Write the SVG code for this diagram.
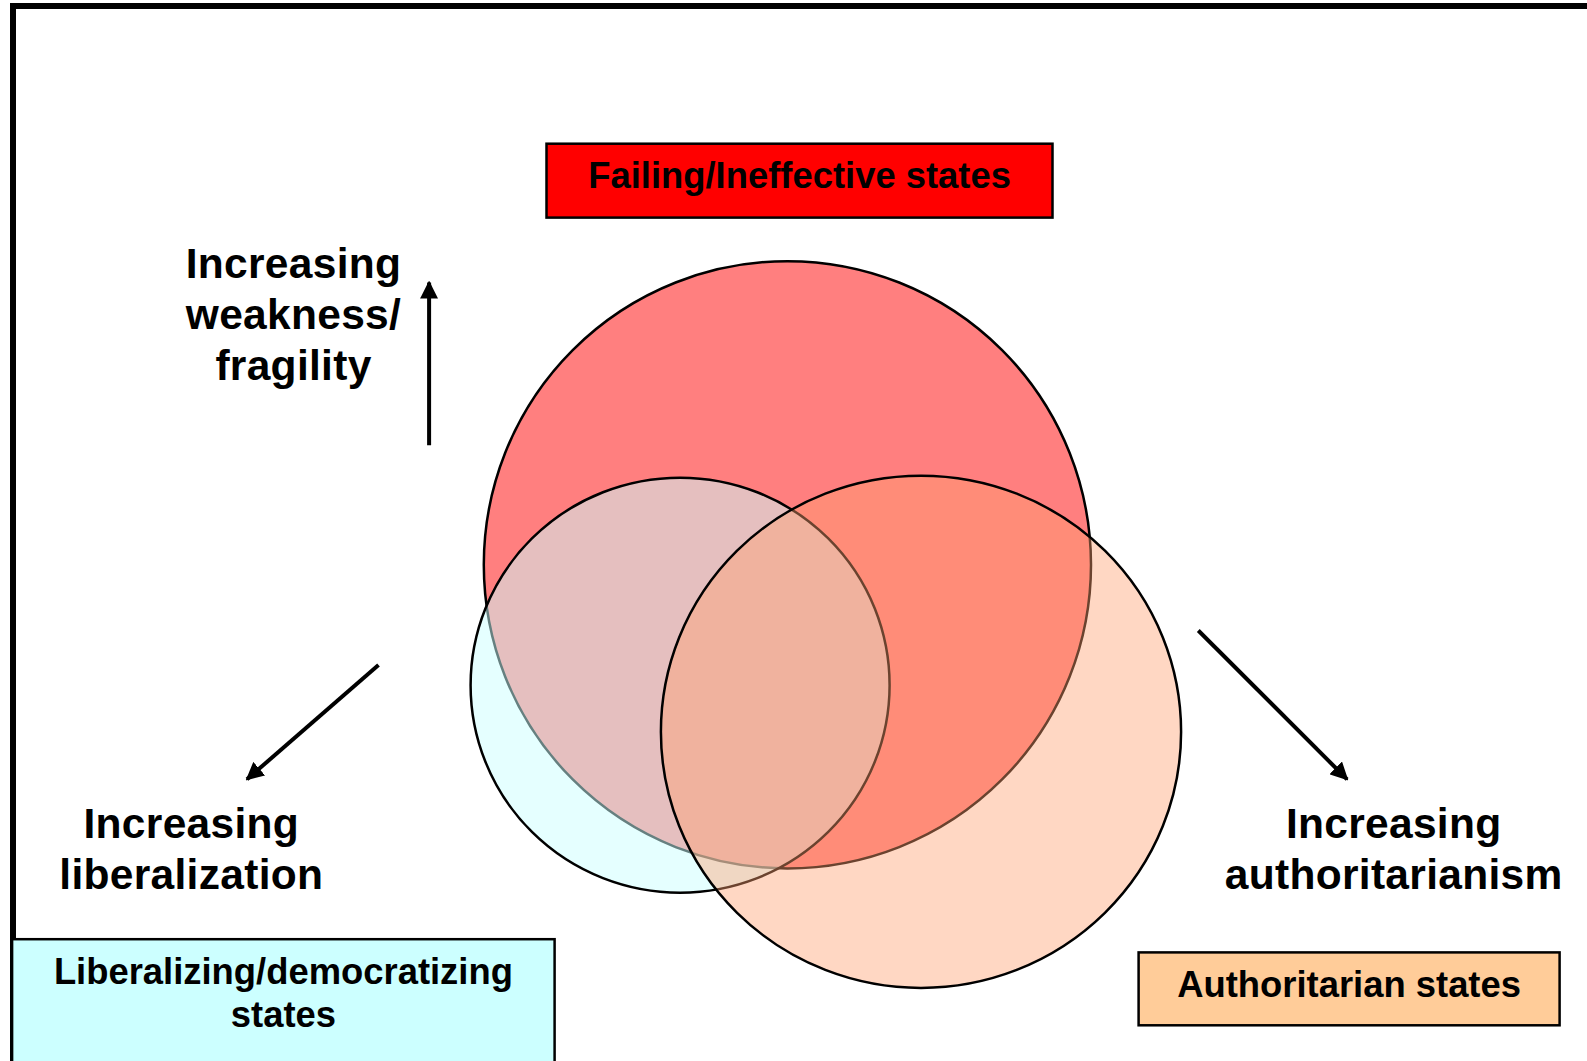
<svg xmlns="http://www.w3.org/2000/svg" width="1587" height="1061" viewBox="0 0 1587 1061">
<style>
.t{font-family:"Liberation Sans",Arial,sans-serif;font-weight:bold;fill:#000;text-anchor:middle}
.big{font-size:42.5px;letter-spacing:0.3px}
.box{font-size:36.4px}
.c{stroke:#000;stroke-width:2.5}
.bx{stroke:#000;stroke-width:2.5}
.ar{stroke:#000;stroke-width:4;fill:none}
</style>
<defs>
<marker id="ah" viewBox="0 0 10 10" refX="9" refY="5" markerWidth="4.5" markerHeight="4.5" orient="auto" markerUnits="strokeWidth">
<path d="M0,0 L10,5 L0,10 z" fill="#000"/>
</marker>
</defs>
<rect x="0" y="0" width="1587" height="1061" fill="#fff"/>
<rect id="frame" x="13" y="6" width="1620" height="1120" fill="none" stroke="#000" stroke-width="6"/>
<g id="venn">
<g id="failing-circle"><ellipse cx="787.4" cy="564.8" rx="303.6" ry="303.6" fill="#FF0000" fill-opacity="0.5" class="c"/></g>
<g id="liberal-circle"><ellipse cx="680.1" cy="685.2" rx="209.5" ry="207.5" fill="#CCFFFF" fill-opacity="0.5" class="c"/></g>
<g id="auth-circle"><ellipse cx="921" cy="731.8" rx="260.1" ry="256.1" fill="#FFA070" fill-opacity="0.42" class="c"/></g>
</g>
<g id="failing-box">
<rect x="546.5" y="143.7" width="506" height="73.9" fill="#FF0000" class="bx"/>
<text x="799.6" y="188.3" class="t box">Failing/Ineffective states</text>
</g>
<g id="liberal-box">
<rect x="12.1" y="939.2" width="542.5" height="130" fill="#CCFFFF" class="bx"/>
<text x="283.4" y="983.8" class="t box">Liberalizing/democratizing</text>
<text x="283.4" y="1027.3" class="t box">states</text>
</g>
<g id="auth-box">
<rect x="1138.6" y="952.4" width="421" height="72.9" fill="#FFCC99" class="bx"/>
<text x="1349.1" y="996.9" class="t box">Authoritarian states</text>
</g>
<g id="label-weakness">
<text x="293.5" y="278.3" class="t big">Increasing</text>
<text x="293.5" y="328.9" class="t big">weakness/</text>
<text x="293.5" y="379.5" class="t big">fragility</text>
</g>
<g id="label-liberal">
<text x="191.3" y="838" class="t big">Increasing</text>
<text x="191.3" y="888.6" class="t big">liberalization</text>
</g>
<g id="label-auth">
<text x="1393.7" y="838" class="t big">Increasing</text>
<text x="1393.7" y="888.6" class="t big">authoritarianism</text>
</g>
<g id="connectors">
<line x1="429.1" y1="445.3" x2="429.1" y2="282.4" class="ar" marker-end="url(#ah)"/>
<line x1="378.5" y1="665" x2="247" y2="779.3" class="ar" marker-end="url(#ah)"/>
<line x1="1198.3" y1="630.5" x2="1347.1" y2="779.3" class="ar" marker-end="url(#ah)"/>
</g>
</svg>
